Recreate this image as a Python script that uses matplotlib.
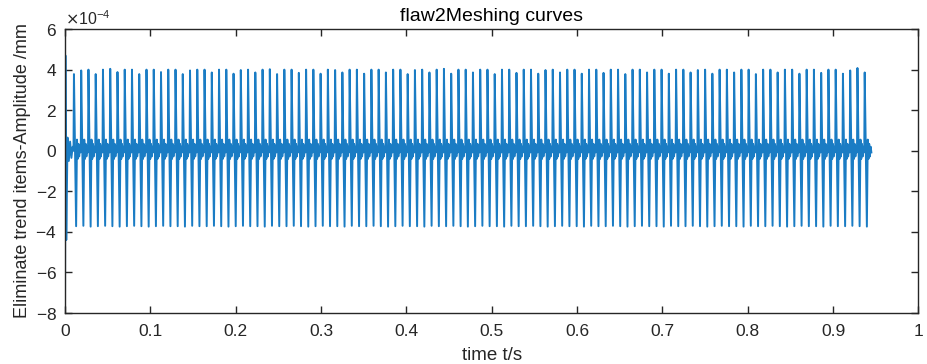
import numpy as np
import matplotlib
matplotlib.use("Agg")
import matplotlib.pyplot as plt
from matplotlib.ticker import ScalarFormatter, FuncFormatter, MultipleLocator

plt.rcParams['font.family'] = ['Liberation Sans', 'DejaVu Sans']

# ---------------- data (units of 1e-4 mm) ----------------
title = "flaw2Meshing curves"
xlabel = "time t/s"
ylabel = "Eliminate trend items-Amplitude /mm"

# initial transient samples
start_t = [0.0, 0.0005, 0.0015, 0.0030, 0.0045, 0.0060, 0.0075, 0.0090]
start_v = [-9.0, 4.70, -4.40, 0.65, -0.50, 0.45, -0.35, 0.20]

mesh_period = 0.0085      # s, spacing of the meshing spikes
first_spike = 0.0105      # s, first regular spike

# positive spike heights per meshing cycle
pos_peaks = [
    3.78, 3.96, 4.00, 3.78, 4.00, 4.04, 3.88, 4.00, 4.00, 3.78,
    4.00, 4.00, 3.88, 4.00, 4.00, 3.78, 3.96, 4.00, 4.00, 3.86,
    4.00, 4.00, 3.80, 3.98, 4.00, 3.86, 4.00, 4.02, 3.78, 4.00,
    4.00, 3.84, 4.00, 4.00, 3.80, 4.00, 3.98, 3.86, 4.00, 4.00,
    3.80, 4.00, 4.00, 3.86, 4.00, 4.00, 3.78, 3.98, 4.00, 3.86,
    4.00, 4.04, 3.80, 4.00, 4.00, 3.86, 4.00, 4.00, 3.78, 4.00,
    4.00, 3.84, 4.00, 4.00, 3.80, 3.98, 4.00, 3.86, 4.00, 4.00,
    3.80, 4.00, 4.00, 3.84, 4.00, 4.00, 3.78, 4.00, 4.00, 3.86,
    4.00, 4.00, 3.80, 4.00, 4.00, 3.86, 3.98, 4.00, 3.80, 4.00,
    4.00, 3.86, 4.00, 4.00, 3.78, 4.00, 4.00, 3.86, 4.00, 4.00,
    3.80, 4.00, 4.00, 3.84, 4.00, 4.00, 3.80, 3.96, 4.08, 3.86,
]
# negative spike depths per meshing cycle
neg_peaks = [
    -3.72, -3.70, -3.74, -3.72, -3.70, -3.72, -3.74, -3.72, -3.70, -3.72,
    -3.74, -3.72, -3.70, -3.72, -3.72, -3.74, -3.70, -3.72, -3.72, -3.70,
    -3.72, -3.74, -3.72, -3.70, -3.72, -3.72, -3.74, -3.70, -3.72, -3.72,
    -3.70, -3.72, -3.74, -3.72, -3.70, -3.72, -3.72, -3.74, -3.70, -3.72,
    -3.72, -3.70, -3.72, -3.74, -3.72, -3.70, -3.72, -3.72, -3.74, -3.70,
    -3.72, -3.72, -3.70, -3.72, -3.74, -3.72, -3.70, -3.72, -3.72, -3.74,
    -3.70, -3.72, -3.72, -3.70, -3.72, -3.74, -3.72, -3.70, -3.72, -3.72,
    -3.74, -3.70, -3.72, -3.72, -3.70, -3.72, -3.74, -3.72, -3.70, -3.72,
    -3.72, -3.74, -3.70, -3.72, -3.72, -3.70, -3.72, -3.74, -3.72, -3.70,
    -3.72, -3.72, -3.74, -3.70, -3.72, -3.72, -3.70, -3.72, -3.74, -3.72,
    -3.70, -3.72, -3.72, -3.74, -3.70, -3.72, -3.72, -3.70, -3.72, -3.74,
]
# residual ripple after each spike pair (fraction of cycle, value)
ripple_phase = [0.42, 0.52, 0.62, 0.72, 0.82, 0.92]
ripple_value = [0.55, -0.40, 0.34, -0.28, 0.20, -0.08]

# ---------------- assemble the sampled signal ----------------
t_list = list(start_t)
v_list = list(start_v)
for i, (hp, hn) in enumerate(zip(pos_peaks, neg_peaks)):
    t0 = first_spike + i * mesh_period
    t_list += [t0 - 0.06 * mesh_period, t0, t0 + 0.30 * mesh_period]
    v_list += [0.0, hp, hn]
    for ph, rv in zip(ripple_phase, ripple_value):
        t_list.append(t0 + ph * mesh_period)
        v_list.append(rv)
t_arr = np.array(t_list)
v_arr = np.array(v_list) * 1e-4

# ---------------- figure ----------------
fig = plt.figure(figsize=(9.27, 3.64), dpi=100)
ax = fig.add_axes([0.0701, 0.1401, 0.9207, 0.780])
ax.plot(t_arr, v_arr, color='#1a7cc4', lw=1.4)

ax.set_xlim(0, 1)
ax.set_ylim(-8e-4, 6e-4)
ax.xaxis.set_major_locator(MultipleLocator(0.1))
ax.xaxis.set_major_formatter(FuncFormatter(lambda v, p: f"{v:g}"))
ax.yaxis.set_major_locator(MultipleLocator(2e-4))
fmt = ScalarFormatter(useMathText=True)
fmt.set_powerlimits((-3, 3))
ax.yaxis.set_major_formatter(fmt)

dark = '#262626'
for s in ax.spines.values():
    s.set_color(dark)
    s.set_linewidth(1.0)
ax.tick_params(direction='in', length=5, width=1.0, colors=dark,
               labelsize=12.5, top=True, right=True, pad=6)
ax.tick_params(axis='x', pad=8)
ax.yaxis.get_offset_text().set_fontsize(11.5)
ax.yaxis.get_offset_text().set_color(dark)

ax.set_title(title, fontsize=14, color='black', pad=6)
ax.set_xlabel(xlabel, fontsize=13.5, color=dark, labelpad=6)
ax.set_ylabel(ylabel, fontsize=13, color=dark, labelpad=3)

fig.savefig("out.png", dpi=100)
